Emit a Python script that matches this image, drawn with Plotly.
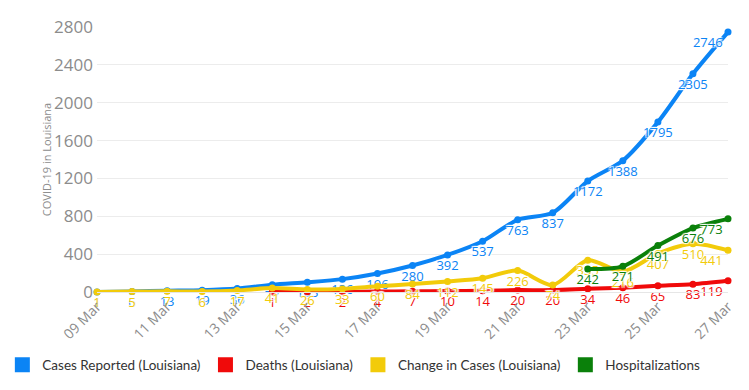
import plotly.graph_objects as go

dates = ["09 Mar", "10 Mar", "11 Mar", "12 Mar", "13 Mar", "14 Mar", "15 Mar", "16 Mar",
         "17 Mar", "18 Mar", "19 Mar", "20 Mar", "21 Mar", "22 Mar", "23 Mar", "24 Mar",
         "25 Mar", "26 Mar", "27 Mar"]
cases = [1, 6, 13, 19, 36, 77, 103, 136, 196, 280, 392, 537, 763, 837, 1172, 1388, 1795, 2305, 2746]
deaths = [None, None, None, None, None, 1, 2, 2, 4, 7, 10, 14, 20, 20, 34, 46, 65, 83, 119]
change = [1, 5, 7, 6, 17, 41, 26, 33, 60, 84, 112, 145, 226, 74, 335, 216, 407, 510, 441]
hosp = [None] * 14 + [242, 271, 491, 676, 773]
tick_labels = dates[::2]

series = [
    ("Cases Reported (Louisiana)", cases, "#0b84f5"),
    ("Deaths (Louisiana)", deaths, "#f00a0a"),
    ("Change in Cases (Louisiana)", change, "#f2cb0a"),
    ("Hospitalizations", hosp, "#0a800a"),
]

FONT = "Open Sans, Lato, sans-serif"
outline = "1px 1px 1px #fff, -1px -1px 1px #fff, 1px -1px 1px #fff, -1px 1px 1px #fff"

fig = go.Figure()
for name, vals, color in series:
    n = len(vals)
    fig.add_trace(go.Scatter(
        x=dates, y=vals, name=name, mode="lines+markers+text",
        line=dict(color=color, width=4, shape="spline", smoothing=0.8),
        marker=dict(color=color, size=7),
        text=["" if v is None else str(v) for v in vals],
        textposition=["bottom center"] * (n - 1) + ["bottom left"],
        textfont=dict(color=color, size=13, family=FONT, shadow=outline),
        cliponaxis=False, showlegend=False, connectgaps=False,
    ))
for name, vals, color in series:
    fig.add_trace(go.Scatter(
        x=[None], y=[None], name=name, mode="markers",
        marker=dict(color=color, size=15, symbol="square"),
        showlegend=True,
    ))

# page body has an 8px default margin; figure sized to fit the 749x390 window
fig.update_layout(
    width=733, height=374,
    margin=dict(l=89, r=13, t=19, b=90, autoexpand=False),
    paper_bgcolor="white", plot_bgcolor="white",
    font=dict(family=FONT, color="#333333"),
    legend=dict(orientation="h", x=-0.15, xanchor="left", y=-0.275, yanchor="middle",
                font=dict(size=13.5, color="#333333", family="Lato, Open Sans, sans-serif"),
                itemwidth=30, tracegroupgap=0),
    xaxis=dict(
        type="category", range=[0, 18], tickvals=tick_labels, ticktext=tick_labels,
        tickangle=-45, tickfont=dict(size=14, color="#8c8c8c"),
        showgrid=False, showline=True, linecolor="#e6e6e6", ticks="",
        automargin=False,
    ),
    yaxis=dict(
        range=[0, 2800], dtick=400, tickfont=dict(size=17, color="#8c8c8c"),
        gridcolor="#ececec", zeroline=False, automargin=False, ticklabelstandoff=3,
        title=dict(text="COVID-19 in Louisiana", font=dict(size=11, color="#8c8c8c"), standoff=0),
    ),
)

fig.write_html("out.html")
